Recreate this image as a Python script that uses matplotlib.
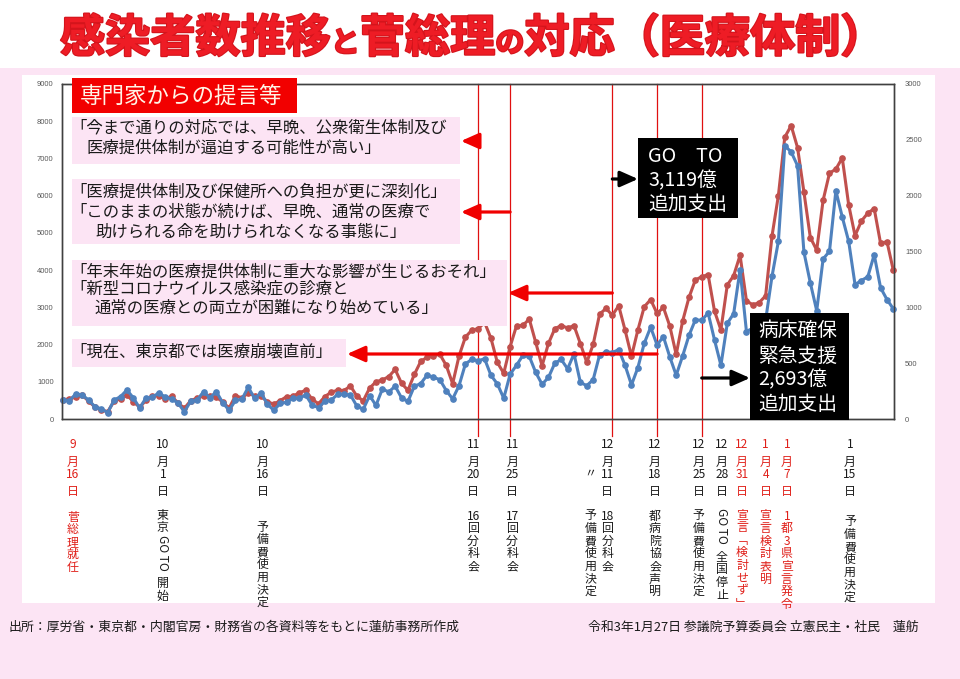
import re
import numpy as np
import pandas as pd
import matplotlib
matplotlib.use("Agg")
import matplotlib.pyplot as plt
import matplotlib.patheffects as pe
from matplotlib.patches import Rectangle
from matplotlib.text import Annotation
from matplotlib.transforms import Affine2D, blended_transform_factory

plt.rcParams["font.family"] = ["Noto Sans CJK JP", "DejaVu Sans"]

# ── data ────────────────────────────────────────────────────
dates = pd.date_range("2020-09-16", "2021-01-24")

# 全国の新規感染者数（左軸）
national = [
    510, 545, 585, 645, 478, 323, 246, 196, 480, 544, 645, 469, 316, 503, 617,
    624, 547, 608, 433, 288, 494, 562, 616, 630, 590, 457, 296, 623, 570, 700,
    621, 615, 462, 400, 495, 599, 608, 710, 768, 529, 410, 602, 723, 772, 765, 888,
    614, 488, 830, 1000, 1050, 1140, 1330, 960, 770, 1196, 1546, 1660, 1704, 1737,
    1439, 948, 1691, 2202, 2386, 2427, 2596, 2168, 1519, 1228, 1944, 2505, 2516,
    2684, 2063, 1430,
    2030, 2427, 2511, 2446, 2508, 2025, 1523, 2003, 2812, 2971, 2788, 3041, 2385,
    1683, 2390, 3016, 3209, 2835, 2996, 2496, 1733, 2625, 3265, 3736, 3823, 3879,
    2897, 2395, 3601, 3852, 4400,
    3176, 3066, 3128, 3310, 4915, 6004, 7570, 7882, 7290, 6094, 4876, 4537, 5875,
    6605, 6714, 7014, 5759, 4925, 5320, 5531, 5653, 4717, 4765, 3990,
]

# 東京都の新規感染者数（右軸）
tokyo = [
    170, 165, 225, 215, 170, 110, 90, 57, 170, 200, 260, 190, 98, 190, 194,
    235, 196, 180, 143, 65, 160, 170, 245, 190, 245, 146, 78, 166, 177, 284,
    184, 235, 132, 78, 139, 150, 185, 186, 215, 124, 102, 158, 170, 221, 221, 215,
    116, 87, 209, 122, 269, 242, 294, 189, 157, 293, 317, 393, 374, 352, 255, 180,
    298, 493, 534, 522, 539, 391, 314, 186, 401, 481, 570, 561, 418, 311,
    372, 500, 533, 449, 584, 327, 299, 352, 572, 602, 595, 621, 480, 305, 460, 678,
    822, 664, 736, 556, 392, 563, 748, 888, 884, 949, 708, 481, 856, 944, 1337,
    783, 814, 816, 884, 1278, 1591, 2447, 2392, 2268, 1494, 1219, 970, 1433, 1502,
    2044, 1809, 1592, 1204, 1240, 1274, 1471, 1175, 1070, 986,
]

# 日付ラベルと出来事
ev_dates = ["2020-09-16", "2020-10-01", "2020-10-16", "2020-11-20", "2020-11-25",
            "2020-12-11", "2020-12-18", "2020-12-25", "2020-12-28", "2020-12-31",
            "2021-01-04", "2021-01-07", "2021-01-15"]
ev_texts = ["菅総理就任", "東京GO TO 開始", "予備費使用決定", "16回分科会", "17回分科会",
            "18回分科会", "都病院協会声明", "予備費使用決定", "GO TO 全国停止",
            "宣言﹁検討せず﹂", "宣言検討表明", "1都3県宣言発令", "予備費使用決定"]
ev_red = [True, False, False, False, False, False, False, False, False,
          True, True, True, False]
ev_dx = [10, 4, 8, -5, 2, -5, -2, -3, 1, 2, 0, 2, 14]
ev_y0 = [517, 515, 527, 516, 516, 516, 516, 516, 514, 515, 516, 516, 522]

# 縦の赤線（提言の日）
line_dates = ["2020-11-20", "2020-11-25", "2020-12-11", "2020-12-18", "2020-12-25"]

quotes = [
    ["「今まで通りの対応では、早晩、公衆衛生体制及び",
     "医療提供体制が逼迫する可能性が高い」"],
    ["「医療提供体制及び保健所への負担が更に深刻化」",
     "「このままの状態が続けば、早晩、通常の医療で",
     "助けられる命を助けられなくなる事態に」"],
    ["「年末年始の医療提供体制に重大な影響が生じるおそれ」",
     "「新型コロナウイルス感染症の診療と",
     "通常の医療との両立が困難になり始めている」"],
    ["「現在、東京都では医療崩壊直前」"],
]
quote_dates = ["2020-11-20", "2020-11-25", "2020-12-11", "2020-12-18"]

W, H = 960, 679
RED = "#C0504D"
BLUE = "#4F81BD"
PINK = "#FCE4F4"

fig = plt.figure(figsize=(W / 100, H / 100), dpi=100)
fig.patch.set_facecolor("white")
pix = Affine2D().scale(1 / W, -1 / H).translate(0, 1) + fig.transFigure


def day(d):
    return (pd.Timestamp(d) - dates[0]).days


def rect(x0, y0, x1, y1, color, z):
    fig.patches.append(Rectangle((x0, y0), x1 - x0, y1 - y0, transform=pix,
                                 facecolor=color, edgecolor="none", zorder=z))


# background
rect(0, 68, W, H, PINK, -3)
rect(22, 75, 935, 603, "white", -2)

# ── main chart ─────────────────────────────────────────────
ax = fig.add_axes([62 / W, 1 - 419 / H, 832 / W, 335 / H])
x = np.arange(len(dates))
ax.plot(x, national, color=RED, lw=2.2, marker="o", ms=3.8, zorder=3,
        clip_on=False)
ax.set_xlim(-0.16, 130.1)
ax.set_ylim(0, 9000)
ax.set_yticks(range(0, 9001, 1000))
ax.set_xticks([])
ax.tick_params(axis="y", length=0, pad=6, labelsize=5.5,
               labelcolor="#595959", labelfontfamily="Liberation Sans")

ax2 = ax.twinx()
ax2.plot(x, tokyo, color=BLUE, lw=2.2, marker="o", ms=3.8, clip_on=False)
ax2.set_ylim(0, 3000)
ax2.set_yticks(range(0, 3001, 500))
ax2.tick_params(axis="y", length=0, pad=8, labelsize=5.5,
                labelcolor="#595959", labelfontfamily="Liberation Sans")
for a in (ax, ax2):
    for sp in a.spines.values():
        sp.set_color("#404040")
        sp.set_linewidth(1.0)

bt = blended_transform_factory(ax.transData, pix)

for i, d in enumerate(line_dates):
    ax.plot([day(d), day(d)], [84, 436], transform=bt, color="#E01010",
            lw=0.9, zorder=1, clip_on=False)

# ── quote boxes ────────────────────────────────────────────
rect(72, 78, 297, 113, "#F20000", 2)
fig.text(80, 96, "専門家からの提言等", transform=pix, fontsize=16.2,
         color="#FFF4E6", va="center", zorder=3)

box_geo = [(117, 164, 460), (179, 244, 460), (260, 326, 507), (339, 367, 346)]
line_y = [[128, 148], [192, 212, 232], [272, 289, 308], [352]]
for lines, (y0, y1, xr), ys in zip(quotes, box_geo, line_y):
    rect(72, y0, xr, y1, PINK, 2)
    for s, yy in zip(lines, ys):
        xs = 70 if s.startswith("「") else (86 if len(lines) == 2 else 95)
        fig.text(xs, yy, s, transform=pix, fontsize=11.8, color="#1A1A1A",
                 va="center", zorder=3)


def arrow(d, y, tip, color):
    a = Annotation("", xy=(tip, y), xycoords=pix, xytext=(day(d), y),
                   textcoords=bt,
                   arrowprops=dict(arrowstyle="-|>,head_length=0.9,head_width=0.4",
                                   color=color, lw=2.3, mutation_scale=12,
                                   shrinkA=0, shrinkB=0))
    a.set_zorder(5)
    fig.add_artist(a)


for d, y, tip in zip(quote_dates, [141, 212, 293, 354], [461, 461, 508, 347]):
    arrow(d, y, tip, "#F00000")

# ── black budget boxes ─────────────────────────────────────
rect(638, 138, 738, 218, "black", 4)
for s, yy in zip(["GO　TO", "3,119億", "追加支出"], [157, 181, 205]):
    fig.text(648, yy, s, transform=pix, fontsize=14.2, color="white",
             va="center", zorder=6)
rect(750, 313, 849, 420, "black", 4)
for s, yy in zip(["病床確保", "緊急支援", "2,693億", "追加支出"],
                 [330, 356, 380, 405]):
    fig.text(758, yy, s, transform=pix, fontsize=14.2, color="white",
             va="center", zorder=6)
arrow("2020-12-11", 179, 638, "black")
arrow("2020-12-25", 378, 750, "black")

# ── vertical date / event labels ───────────────────────────


def vcolumn(d, dx, y0, s, color, pitch=12.6, fs=8.6):
    tr = bt + Affine2D().translate(dx, 0)
    y = y0
    for tok in re.findall(r"[A-Za-z][A-Za-z ]*[A-Za-z]|\d+|.", s):
        if tok == " ":
            y += pitch * 0.5
        elif tok[0].isascii() and tok[0].isalpha():
            h = 7.4 * len(tok)
            ax.text(day(d), y - pitch / 2 + h / 2, tok, transform=tr,
                    rotation=-90, ha="center", va="center", fontsize=fs,
                    color=color, clip_on=False)
            y += h
        else:
            ax.text(day(d), y, tok, transform=tr, ha="center", va="center",
                    fontsize=fs, color=color, clip_on=False)
            y += pitch


for d, s, red, dx, y0 in zip(ev_dates, ev_texts, ev_red, ev_dx, ev_y0):
    col = "#E0201A" if red else "#1A1A1A"
    ts = pd.Timestamp(d)
    tr = bt + Affine2D().translate(dx, 0)
    for part, yy in zip([str(ts.month), "月", str(ts.day), "日"],
                        [445, 462, 475, 491]):
        ax.text(day(d), yy, part, transform=tr, ha="center", va="center",
                fontsize=8.6, color=col, clip_on=False)
    vcolumn(d, dx, y0, s, col)

# 12/11 の〃（予備費使用決定）
ax.text(day("2020-12-11"), 473, "〃", transform=bt + Affine2D().translate(-22, 0),
        ha="center", va="center", fontsize=8.6, color="#1A1A1A", clip_on=False)
vcolumn("2020-12-11", -22, 516, "予備費使用決定", "#1A1A1A")

# ── title and footer ───────────────────────────────────────
renderer = fig.canvas.get_renderer()
tx = 60
for s, fs in [("感染者数推移", 32.5), ("と", 21), ("菅総理", 32.5), ("の", 21),
              ("対応", 32.5), ("（医療体制）", 32.5)]:
    t = fig.text(tx, 52, s, transform=pix, fontsize=fs, fontweight="bold",
                 color="#EE1C25", va="baseline",
                 path_effects=[pe.withStroke(linewidth=1.6, foreground="#D4141C")])
    tx += t.get_window_extent(renderer).width

fig.text(8, 627, "出所：厚労省・東京都・内閣官房・財務省の各資料等をもとに蓮舫事務所作成",
         transform=pix, fontsize=9.3, va="center", color="#1A1A1A")
fig.text(588, 627, "令和3年1月27日 参議院予算委員会 立憲民主・社民　蓮舫",
         transform=pix, fontsize=9.3, va="center", color="#1A1A1A")

fig.savefig("out.png", dpi=100)
plt.close(fig)
